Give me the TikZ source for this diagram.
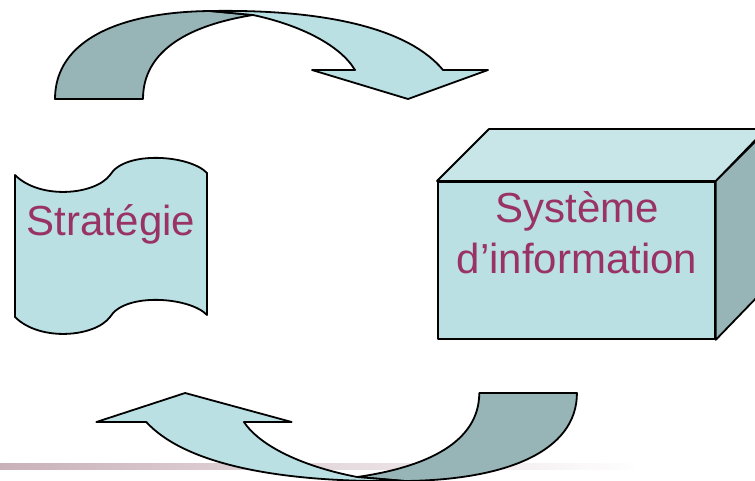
\documentclass[tikz,border=0pt]{standalone}
\usepackage{fontspec}
\setmainfont{Liberation Sans}
\definecolor{lightc}{HTML}{BAE0E3}
\definecolor{darkc}{HTML}{97B4B6}
\definecolor{topc}{HTML}{C8E6E8}
\definecolor{txtc}{HTML}{993366}
\definecolor{lineg}{HTML}{C9B1B9}
\newcommand\curvarr{%
  \path[outl,fill=darkc] (55,99) .. controls (55,40) and (120,12) .. (210,11) -- (253,15) .. controls (190,25) and (143,50) .. (143,99) -- cycle;
  \path[outl,fill=lightc] (210,11) .. controls (330,9) and (410,30) .. (443,70) -- (488,70) -- (408,99) -- (312,70) -- (355,70) .. controls (340,45) and (300,25) .. (253,15) -- cycle;
}
\begin{document}
\begin{tikzpicture}[x=1pt,y=-1pt,
  outl/.style={draw=black,line width=1.8pt,line join=round},
  lbl/.style={text=txtc,font=\fontsize{42}{51}\selectfont,align=center,inner sep=0pt}]
\useasboundingbox (0,0) rectangle (755,480);
\shade[left color=lineg,right color=white] (0,463) rectangle (640,469);
% top curved arrow
\curvarr
% bottom curved arrow (mirrored)
\begin{scope}[shift={(638,492)},xscale=-1.11,yscale=-1]
\curvarr
\end{scope}
% Strategie wave
\path[outl,fill=lightc] (15,175) .. controls (40,200) and (95,195) .. (110,175) .. controls (125,150) and (190,155) .. (207,173) -- (207,315) .. controls (190,297) and (125,292) .. (110,317) .. controls (95,337) and (40,342) .. (15,317) -- cycle;
\node[lbl,anchor=base] (strat) at (111,235) {Stratégie};
% cube
\node[outl,fill=lightc,minimum width=277pt,minimum height=157pt,inner sep=0pt,anchor=north west] (si) at (437,181) {};
\path[outl,fill=topc] (si.north west) -- ++(52,-52) -- ++(277,0) -- (si.north east) -- cycle;
\path[outl,fill=darkc] (si.north east) -- ++(52,-52) -- ++(0,157) -- (si.south east) -- cycle;
\node[lbl,anchor=base] (silbl) at (577,273) {Système\\d’information};
\end{tikzpicture}
\end{document}
